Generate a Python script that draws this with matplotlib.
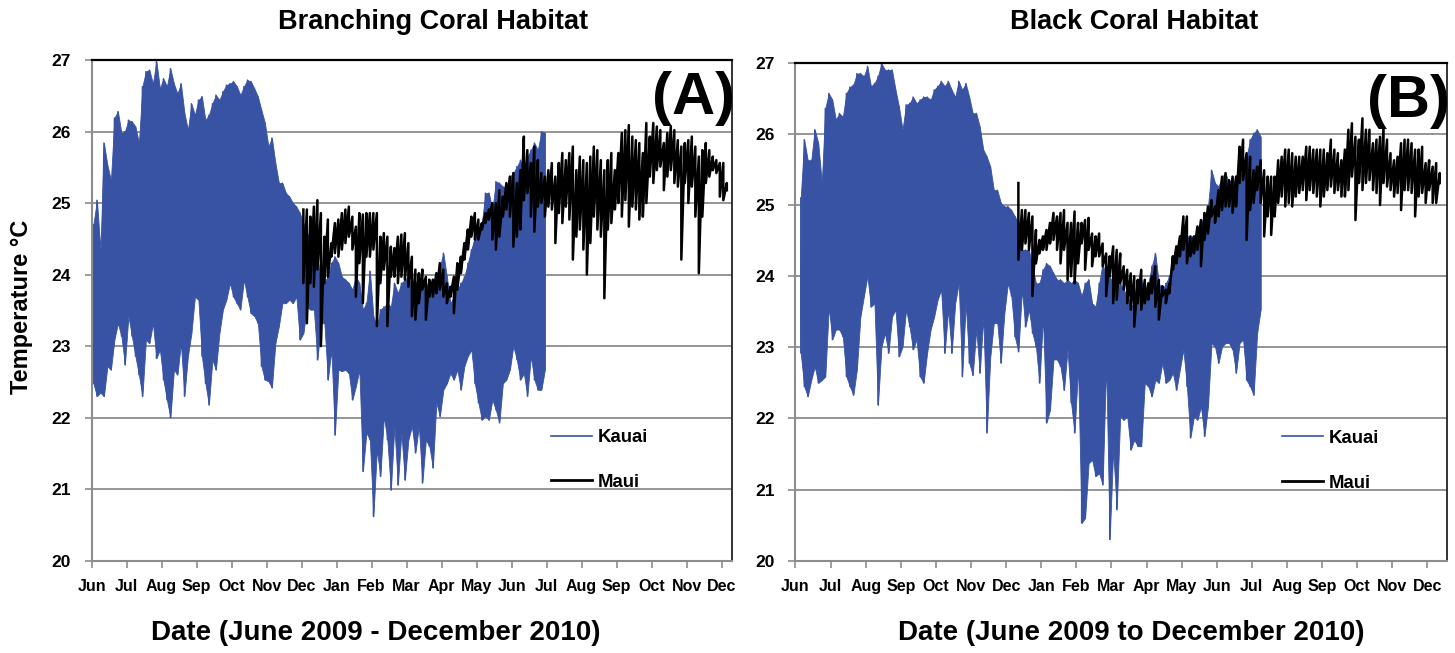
import matplotlib
matplotlib.use("Agg")
import matplotlib.pyplot as plt
import numpy as np
from matplotlib import font_manager

# month ticks, June 2009 .. December 2010
months = ["Jun", "Jul", "Aug", "Sep", "Oct", "Nov", "Dec", "Jan", "Feb", "Mar",
          "Apr", "May", "Jun", "Jul", "Aug", "Sep", "Oct", "Nov", "Dec"]

# time in months since 1 June 2009, one reading every ~3 days (0.1 month)
# each series stored as the high / low of the temperature trace in that window

# (A) Branching coral habitat
kauai_a_start = 0.05
kauai_a_hi = [24.70, 25.04, 24.35, 25.84, 25.53, 25.32, 26.19, 26.28, 25.98, 26.00,
              26.16, 26.14, 26.07, 25.84, 26.63, 26.84, 26.86, 26.67, 26.98, 26.60,
              26.74, 26.63, 26.88, 26.67, 26.53, 26.67, 26.26, 26.02, 26.39, 26.23,
              26.44, 26.49, 26.16, 26.23, 26.39, 26.51, 26.44, 26.56, 26.65, 26.67,
              26.70, 26.63, 26.51, 26.63, 26.72, 26.70, 26.60, 26.49, 26.30, 26.12,
              25.79, 25.91, 25.56, 25.28, 25.28, 25.14, 25.09, 25.00, 24.95, 24.86,
              24.72, 24.58, 24.53, 24.44, 24.25, 23.88, 23.90, 23.97, 24.16, 24.25,
              24.16, 23.97, 23.93, 23.88, 23.79, 23.97, 23.88, 23.51, 23.60, 24.05,
              23.42, 23.28, 23.51, 23.55, 23.60, 23.55, 23.88, 23.74, 23.88, 23.93,
              23.97, 23.79, 23.88, 23.97, 23.93, 23.88, 23.83, 23.79, 23.97, 24.11,
              24.30, 23.97, 23.60, 23.69, 23.79, 23.88, 23.97, 24.16, 24.35, 24.53,
              24.63, 24.72, 25.14, 25.14, 24.91, 25.30, 25.28, 25.23, 25.23, 25.37,
              25.42, 25.51, 25.60, 25.46, 25.65, 25.74, 25.84, 25.74, 26.00, 25.98]
kauai_a_lo = [22.48, 22.30, 22.35, 22.30, 22.72, 22.67, 23.09, 23.32, 23.14, 22.74,
              23.42, 23.14, 22.86, 22.60, 22.30, 23.09, 23.04, 23.32, 22.83, 22.95,
              22.53, 22.25, 22.00, 22.67, 22.60, 23.04, 22.30, 22.86, 23.18, 23.69,
              23.65, 22.86, 22.48, 22.18, 22.81, 22.67, 23.18, 23.51, 23.65, 23.88,
              23.69, 23.60, 23.51, 23.93, 23.69, 23.46, 23.42, 23.32, 22.72, 22.53,
              22.51, 22.42, 23.04, 23.28, 23.60, 23.60, 23.65, 23.60, 23.69, 23.09,
              23.18, 23.55, 23.51, 23.51, 22.81, 23.32, 23.32, 22.53, 22.95, 21.76,
              22.67, 22.65, 22.67, 22.62, 22.25, 22.44, 22.67, 21.25, 21.79, 21.69,
              20.62, 21.55, 21.18, 22.02, 21.69, 20.99, 21.88, 21.06, 21.79, 21.13,
              21.69, 21.88, 21.51, 21.88, 21.09, 21.69, 21.60, 21.30, 22.21, 22.02,
              22.39, 22.48, 22.62, 22.53, 22.67, 22.39, 22.72, 22.86, 22.95, 22.48,
              22.21, 21.97, 22.02, 21.97, 22.25, 22.11, 21.93, 22.48, 22.53, 22.67,
              23.00, 22.81, 22.53, 22.62, 22.30, 22.86, 22.53, 22.39, 22.39, 22.67]

maui_a_start = 6.05
maui_a_hi = [24.91, 24.91, 24.81, 24.95, 25.04, 24.86, 24.53, 24.77, 24.44, 24.72,
             24.77, 24.86, 24.91, 24.95, 24.81, 24.67, 24.86, 24.84, 24.86, 24.86,
             24.86, 24.86, 24.53, 24.58, 24.53, 24.39, 24.37, 24.53, 24.56, 24.58,
             24.44, 24.25, 24.07, 24.02, 24.07, 23.97, 23.93, 23.93, 24.02, 24.16,
             24.07, 23.88, 23.83, 23.97, 24.16, 24.25, 24.44, 24.63, 24.81, 24.86,
             24.77, 24.72, 24.86, 24.91, 25.00, 25.00, 25.18, 25.09, 25.28, 25.37,
             25.42, 25.28, 25.46, 25.93, 25.74, 25.56, 25.79, 25.60, 25.42, 25.37,
             25.46, 25.56, 25.37, 25.56, 25.70, 25.60, 25.70, 25.79, 25.46, 25.65,
             25.60, 25.56, 25.65, 25.79, 25.74, 25.60, 25.46, 25.60, 25.70, 25.46,
             25.70, 25.98, 26.02, 26.09, 25.93, 25.88, 25.84, 25.70, 26.12, 25.93,
             26.12, 26.07, 26.02, 25.84, 25.98, 26.07, 26.02, 25.88, 25.79, 25.84,
             25.88, 25.93, 25.79, 25.65, 25.74, 25.84, 25.74, 25.65, 25.60, 25.56,
             25.56, 25.28]
maui_a_lo = [23.88, 23.32, 23.88, 23.83, 24.07, 23.00, 23.88, 23.97, 24.25, 24.30,
             24.25, 24.35, 24.44, 24.53, 24.35, 23.69, 24.16, 23.60, 24.25, 24.25,
             24.35, 23.28, 23.88, 24.07, 23.28, 23.97, 23.97, 23.88, 23.97, 23.93,
             23.83, 23.42, 23.37, 23.60, 23.79, 23.37, 23.69, 23.69, 23.74, 23.79,
             23.69, 23.60, 23.69, 23.46, 23.79, 24.02, 24.21, 24.35, 24.53, 24.49,
             24.49, 24.63, 24.72, 24.77, 24.49, 24.35, 24.53, 24.81, 24.91, 24.81,
             24.39, 24.53, 24.63, 25.04, 25.14, 24.81, 24.60, 24.95, 25.00, 24.81,
             24.95, 24.91, 24.44, 24.86, 24.72, 24.95, 24.77, 24.21, 24.53, 24.63,
             24.35, 24.00, 24.44, 24.81, 24.63, 24.53, 23.67, 24.63, 24.72, 24.91,
             25.00, 24.81, 25.04, 24.67, 24.95, 24.91, 24.77, 24.81, 25.00, 25.37,
             25.28, 25.46, 25.51, 25.18, 25.37, 25.46, 25.28, 25.23, 24.21, 25.28,
             25.00, 25.23, 24.81, 24.02, 24.81, 25.28, 25.37, 25.46, 25.42, 25.09,
             25.04, 25.18]

# (B) Black coral habitat
kauai_b_start = 0.15
kauai_b_hi = [25.10, 25.92, 25.63, 25.63, 26.06, 25.87, 25.31, 26.36, 26.57, 26.48,
              26.20, 26.29, 26.24, 26.57, 26.66, 26.69, 26.85, 26.85, 26.81, 26.95,
              26.67, 26.71, 26.81, 26.99, 26.90, 26.90, 26.90, 26.62, 26.38, 26.06,
              26.41, 26.43, 26.52, 26.43, 26.48, 26.52, 26.52, 26.48, 26.62, 26.67,
              26.74, 26.67, 26.74, 26.62, 26.52, 26.74, 26.62, 26.71, 26.52, 26.29,
              26.29, 26.10, 25.78, 25.68, 25.54, 25.21, 25.21, 25.03, 24.98, 24.98,
              24.93, 24.84, 24.75, 24.37, 24.37, 24.37, 24.14, 23.90, 23.90, 24.09,
              24.18, 24.14, 24.04, 23.95, 23.95, 23.90, 23.95, 23.90, 23.95, 23.90,
              23.72, 23.90, 23.95, 23.62, 23.57, 23.90, 24.18, 23.95, 23.99, 23.90,
              23.81, 23.90, 23.81, 23.72, 23.62, 23.53, 23.81, 23.95, 23.76, 23.90,
              24.14, 24.32, 23.90, 23.81, 23.90, 24.00, 24.28, 24.32, 24.46, 24.46,
              24.56, 24.56, 24.56, 24.65, 24.75, 24.84, 24.98, 25.49, 25.31, 25.26,
              25.40, 25.45, 25.31, 25.40, 25.21, 25.40, 25.49, 25.68, 25.92, 26.01,
              26.06, 25.96]
kauai_b_lo = [22.92, 22.45, 22.31, 22.54, 22.73, 22.50, 22.54, 22.59, 23.57, 23.11,
              23.25, 23.25, 23.15, 22.59, 22.45, 22.33, 22.69, 23.43, 23.72, 24.00,
              23.57, 23.62, 22.19, 23.01, 23.20, 22.92, 23.43, 23.53, 22.87, 23.01,
              23.53, 23.29, 22.97, 23.11, 22.59, 22.50, 22.92, 23.25, 23.43, 23.67,
              23.81, 22.92, 23.53, 22.92, 23.62, 23.90, 22.59, 23.62, 22.78, 22.61,
              23.25, 22.64, 23.43, 21.80, 22.87, 23.34, 23.34, 22.78, 23.48, 23.90,
              23.72, 23.15, 22.94, 23.81, 23.29, 23.53, 23.20, 23.01, 22.50, 23.43,
              21.94, 22.12, 22.83, 22.83, 22.73, 22.40, 22.97, 22.22, 21.80, 22.73,
              20.53, 20.60, 21.37, 21.42, 21.19, 21.23, 21.07, 22.78, 20.30, 21.56,
              20.72, 22.03, 21.98, 22.03, 21.56, 21.70, 21.61, 21.61, 22.50, 22.45,
              22.31, 22.54, 22.50, 22.78, 22.50, 22.54, 22.64, 22.40, 22.69, 22.97,
              22.45, 21.73, 22.03, 21.98, 22.17, 21.75, 22.17, 23.06, 23.01, 22.78,
              23.01, 23.06, 23.06, 22.97, 22.64, 23.06, 23.11, 22.54, 22.45, 22.33,
              23.20, 23.53]

maui_b_start = 6.35
maui_b_hi = [25.31, 24.93, 24.93, 24.89, 24.84, 24.65, 24.51, 24.56, 24.65, 24.75,
             24.89, 24.84, 24.89, 24.93, 24.75, 24.75, 24.91, 24.75, 24.75, 24.79,
             24.82, 24.60, 24.56, 24.60, 24.46, 24.32, 24.28, 24.42, 24.37, 24.32,
             24.14, 24.09, 24.04, 24.00, 23.95, 24.09, 23.95, 23.90, 24.00, 24.14,
             23.95, 23.86, 23.81, 23.90, 24.28, 24.42, 24.56, 24.84, 24.84, 24.56,
             24.56, 24.70, 24.79, 24.89, 24.98, 25.07, 24.98, 25.21, 25.40, 25.45,
             25.35, 25.40, 25.40, 25.82, 25.92, 25.73, 25.68, 25.49, 25.54, 25.63,
             25.49, 25.40, 25.40, 25.40, 25.63, 25.68, 25.78, 25.78, 25.73, 25.68,
             25.68, 25.68, 25.82, 25.82, 25.78, 25.78, 25.78, 25.78, 25.73, 25.92,
             25.78, 25.73, 25.63, 25.78, 26.06, 26.15, 25.96, 25.92, 26.22, 26.06,
             26.06, 25.87, 25.92, 25.96, 26.10, 25.92, 25.73, 25.63, 25.68, 25.87,
             25.92, 25.92, 25.87, 25.78, 25.78, 25.82, 25.59, 25.63, 25.54, 25.59,
             25.45]
maui_b_lo = [24.23, 24.37, 24.46, 24.37, 23.72, 24.18, 24.32, 24.37, 24.37, 24.46,
             24.51, 24.37, 24.18, 24.37, 23.95, 24.00, 23.90, 24.18, 24.46, 24.09,
             24.37, 24.14, 24.28, 24.28, 24.14, 23.72, 24.00, 23.62, 23.67, 23.90,
             23.81, 23.62, 23.53, 23.29, 23.62, 23.53, 23.62, 23.67, 23.76, 23.57,
             23.39, 23.72, 23.62, 23.76, 24.09, 24.18, 24.28, 24.37, 24.18, 24.28,
             24.32, 24.37, 24.14, 24.51, 24.60, 24.84, 24.75, 24.84, 24.93, 24.98,
             24.98, 24.89, 24.98, 25.31, 25.35, 24.51, 24.93, 25.03, 25.21, 25.03,
             24.56, 24.84, 24.58, 24.84, 25.03, 25.12, 24.98, 25.03, 24.98, 25.12,
             25.17, 25.21, 25.07, 25.21, 25.17, 25.12, 24.98, 25.12, 25.21, 25.26,
             25.17, 25.21, 25.12, 25.12, 25.21, 25.40, 24.79, 25.31, 25.21, 25.31,
             25.35, 25.21, 25.17, 25.00, 25.31, 25.26, 25.21, 25.12, 25.17, 24.93,
             25.21, 25.21, 25.17, 24.84, 25.12, 25.17, 25.03, 25.21, 25.03, 25.03,
             25.31]

STEP = 0.1
BLUE = "#3953a4"
GRID = "#8c8c8c"

names = {f.name for f in font_manager.fontManager.ttflist}
SANS = "Liberation Sans"
NARROW = "Liberation Sans Narrow" if "Liberation Sans Narrow" in names else "Liberation Sans"
plt.rcParams["font.family"] = [SANS, "DejaVu Sans"]
plt.rcParams["font.weight"] = "bold"


def times(start, n):
    return start + STEP * np.arange(n)


def zigzag(t, hi, lo):
    # draw the trace as it swings between high and low in each window
    return np.repeat(t, 2), np.column_stack([hi, lo]).ravel()


def panel(ax, k_start, k_hi, k_lo, m_start, m_hi, m_lo, xmax, tag, leg_x):
    kt = times(k_start, len(k_hi))
    mt = times(m_start, len(m_hi))
    ax.fill_between(kt, k_lo, k_hi, color=BLUE, lw=0.6, zorder=2)
    x, y = zigzag(kt, k_hi, k_lo)
    ax.plot(x, y, color=BLUE, lw=1.0, label="Kauai", zorder=2)
    x, y = zigzag(mt, m_hi, m_lo)
    ax.plot(x, y, color="black", lw=1.8, label="Maui", zorder=3)

    ax.set_xlim(0, xmax)
    ax.set_ylim(20, 27)
    ax.set_yticks(range(20, 28))
    ax.set_xticks(range(len(months)))
    ax.set_xticklabels(months, fontfamily=NARROW, fontsize=11.5, fontweight="bold")
    for lab in ax.get_yticklabels():
        lab.set_fontsize(12.5)
        lab.set_fontweight("bold")
    ax.yaxis.grid(True, color=GRID, lw=1.3)
    ax.set_axisbelow(True)
    ax.tick_params(axis="y", direction="out", length=5, width=1.2, color=GRID, pad=10)
    ax.tick_params(axis="x", direction="out", length=5, width=1.2, color=GRID, pad=8)
    for side in ("left", "bottom"):
        ax.spines[side].set_color(GRID)
        ax.spines[side].set_linewidth(1.5)
    ax.spines["top"].set_color("black")
    ax.spines["top"].set_linewidth(1.6)
    ax.spines["right"].set_color("#222222")
    ax.spines["right"].set_linewidth(1.3)

    ax.text(1.005, 0.978, tag, transform=ax.transAxes, ha="right", va="top",
            fontsize=43, fontweight="bold")
    leg = ax.legend(loc="upper left", bbox_to_anchor=(leg_x, 0.263), frameon=False,
                    prop={"size": 13.4, "weight": "bold"}, handlelength=2.2,
                    handletextpad=0.3, labelspacing=1.5, borderpad=0, borderaxespad=0)
    leg.get_lines()[0].set_linewidth(1.2)
    leg.get_lines()[1].set_linewidth(2.0)


fig = plt.figure(figsize=(14.55, 6.53), dpi=100)
ax1 = fig.add_axes([0.0630, 0.1413, 0.4399, 0.7668])
ax2 = fig.add_axes([0.5467, 0.1413, 0.4476, 0.7625])

panel(ax1, kauai_a_start, kauai_a_hi, kauai_a_lo, maui_a_start, maui_a_hi, maui_a_lo,
      18.29, "(A)", 0.718)
panel(ax2, kauai_b_start, kauai_b_hi, kauai_b_lo, maui_b_start, maui_b_hi, maui_b_lo,
      18.55, "(B)", 0.747)

fig.text(0.2977, 0.966, "Branching Coral Habitat", ha="center", va="center",
         fontsize=19.5, fontweight="bold")
fig.text(0.7795, 0.966, "Black Coral Habitat", ha="center", va="center",
         fontsize=19.5, fontweight="bold")
fig.text(0.0151, 0.53, "Temperature \u00b0C", ha="center", va="center",
         rotation=90, fontsize=17, fontweight="bold")
fig.text(0.2584, 0.031, "Date (June 2009 - December 2010)", ha="center", va="center",
         fontsize=20, fontweight="bold", fontfamily=NARROW)
fig.text(0.7773, 0.031, "Date (June 2009 to December 2010)", ha="center", va="center",
         fontsize=20, fontweight="bold", fontfamily=NARROW)

fig.savefig("out.png", dpi=100)
